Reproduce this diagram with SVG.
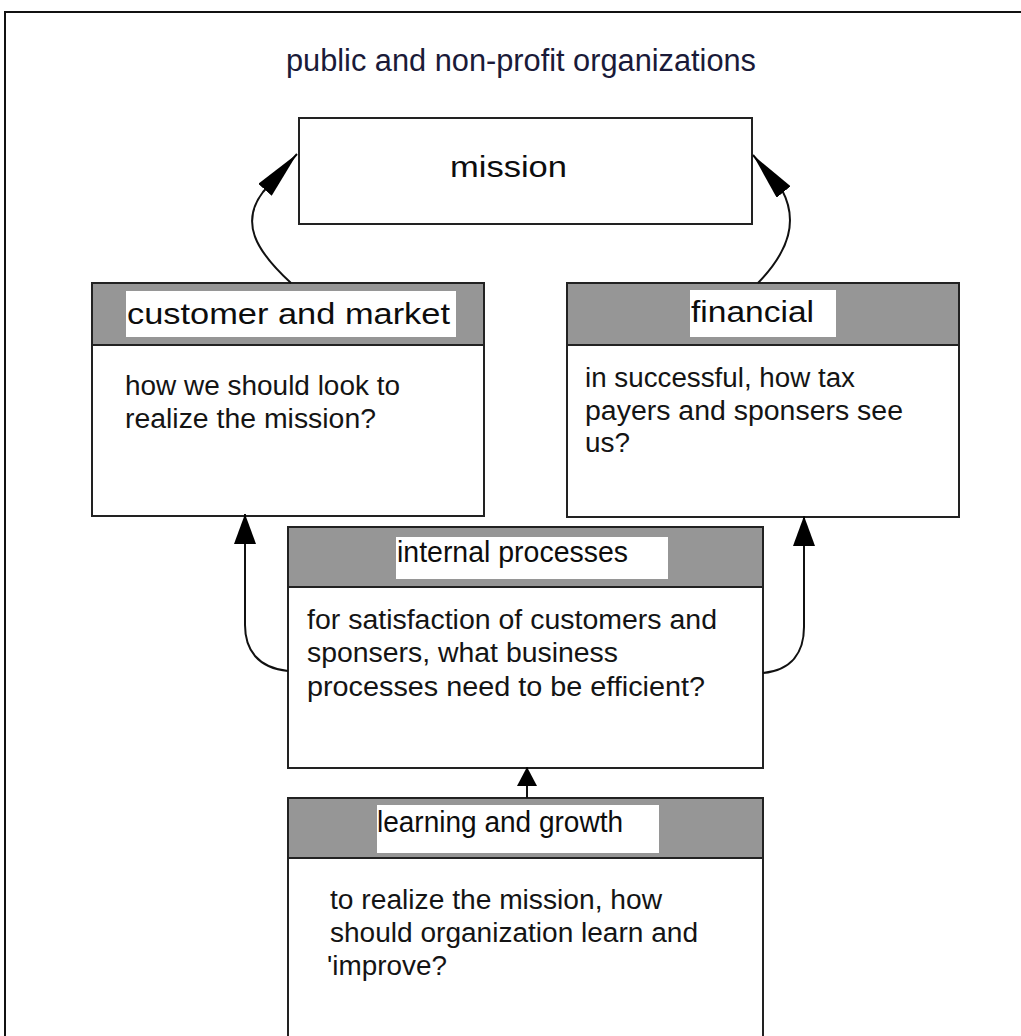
<svg xmlns="http://www.w3.org/2000/svg" width="1021" height="1036" viewBox="0 0 1021 1036">
  <style>
    .frame { fill: #ffffff; stroke: #111111; stroke-width: 2; }
    .box { fill: #ffffff; stroke: #222222; stroke-width: 2; }
    .band { fill: #969696; stroke: #222222; stroke-width: 2; }
    .label-bg { fill: #ffffff; stroke: none; }
    .title { font-family: "Liberation Sans", Arial, sans-serif; font-size: 31px; fill: #1a1a38; }
    .head { font-family: "Liberation Sans", Arial, sans-serif; font-size: 29px; fill: #0d0d0d; }
    .body { font-family: "Liberation Sans", Arial, sans-serif; font-size: 27px; fill: #141414; }
    .conn { fill: none; stroke: #111111; stroke-width: 2; }
  </style>
  <defs>
    <marker id="head-lg" markerUnits="userSpaceOnUse" viewBox="0 0 48 18" refX="48" refY="9" markerWidth="48" markerHeight="18" orient="auto">
      <path d="M0,0 L48,9 L0,18 Z" fill="#000000"/>
    </marker>
    <marker id="head-md" markerUnits="userSpaceOnUse" viewBox="0 0 30 22" refX="30" refY="11" markerWidth="30" markerHeight="22" orient="auto">
      <path d="M0,0 L30,11 L0,22 Z" fill="#000000"/>
    </marker>
    <marker id="head-sm" markerUnits="userSpaceOnUse" viewBox="0 0 19 20" refX="19" refY="10" markerWidth="19" markerHeight="20" orient="auto">
      <path d="M0,0 L19,10 L0,20 Z" fill="#000000"/>
    </marker>
  </defs>

  <!-- outer frame, open to the right and bottom -->
  <rect class="frame" x="5" y="12" width="1100" height="1100"/>

  <text class="title" x="286" y="71" textLength="470" lengthAdjust="spacingAndGlyphs">public and non-profit organizations</text>

  <!-- mission -->
  <g id="mission">
    <rect class="box" x="299" y="118" width="453" height="106"/>
    <text class="head" x="450" y="177" font-size="32" textLength="117" lengthAdjust="spacingAndGlyphs">mission</text>
  </g>

  <!-- customer and market -->
  <g id="customer">
    <rect class="box" x="92" y="283" width="392" height="233"/>
    <rect class="band" x="92" y="283" width="392" height="62"/>
    <rect class="label-bg" x="126" y="291" width="330" height="46"/>
    <text class="head" x="127" y="324" textLength="323" lengthAdjust="spacingAndGlyphs">customer and market</text>
    <text class="body" x="125" y="395" textLength="275" lengthAdjust="spacingAndGlyphs">how we should look to</text>
    <text class="body" x="125" y="428" textLength="251" lengthAdjust="spacingAndGlyphs">realize the mission?</text>
  </g>

  <!-- financial -->
  <g id="financial">
    <rect class="box" x="567" y="283" width="392" height="234"/>
    <rect class="band" x="567" y="283" width="392" height="62"/>
    <rect class="label-bg" x="690" y="290" width="146" height="47"/>
    <text class="head" x="691" y="322" textLength="123" lengthAdjust="spacingAndGlyphs">financial</text>
    <text class="body" x="585" y="387" textLength="270" lengthAdjust="spacingAndGlyphs">in successful, how tax</text>
    <text class="body" x="585" y="420" textLength="318" lengthAdjust="spacingAndGlyphs">payers and sponsers see</text>
    <text class="body" x="585" y="452" textLength="45" lengthAdjust="spacingAndGlyphs">us?</text>
  </g>

  <!-- internal processes -->
  <g id="internal">
    <rect class="box" x="288" y="527" width="475" height="241"/>
    <rect class="band" x="288" y="527" width="475" height="60"/>
    <rect class="label-bg" x="396" y="537" width="272" height="42"/>
    <text class="head" x="397" y="562" font-size="27" textLength="231" lengthAdjust="spacingAndGlyphs">internal processes</text>
    <text class="body" x="307" y="629" textLength="410" lengthAdjust="spacingAndGlyphs">for satisfaction of customers and</text>
    <text class="body" x="307" y="662" textLength="311" lengthAdjust="spacingAndGlyphs">sponsers, what business</text>
    <text class="body" x="307" y="696" textLength="398" lengthAdjust="spacingAndGlyphs">processes need to be efficient?</text>
  </g>

  <!-- learning and growth -->
  <g id="learning">
    <rect class="box" x="288" y="798" width="475" height="300"/>
    <rect class="band" x="288" y="798" width="475" height="60"/>
    <rect class="label-bg" x="377" y="805" width="282" height="48"/>
    <text class="head" x="377" y="832" font-size="27" textLength="246" lengthAdjust="spacingAndGlyphs">learning and growth</text>
    <text class="body" x="330" y="909" textLength="332" lengthAdjust="spacingAndGlyphs">to realize the mission, how</text>
    <text class="body" x="330" y="942" textLength="368" lengthAdjust="spacingAndGlyphs">should organization learn and</text>
    <text class="body" x="327" y="975" textLength="120" lengthAdjust="spacingAndGlyphs">'improve?</text>
  </g>

  <!-- connectors -->
  <g id="connectors">
    <path class="conn" d="M291,283 C255,250 240,222 263,192 L297,154" marker-end="url(#head-lg)"/>
    <path class="conn" d="M758,283 C790,250 798,220 782,190 L753,155" marker-end="url(#head-lg)"/>
    <path class="conn" d="M288,671 C258,668 245,650 245,625 L245,514" marker-end="url(#head-md)"/>
    <path class="conn" d="M763,673 C792,670 804,652 804,627 L804,516" marker-end="url(#head-md)"/>
    <path class="conn" d="M527,798 L527,767" marker-end="url(#head-sm)"/>
  </g>
</svg>
